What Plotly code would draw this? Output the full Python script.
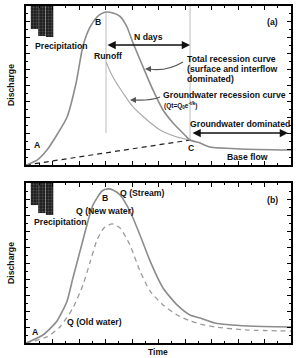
import plotly.graph_objects as go

W, H = 296, 358
FONT = "Liberation Sans, Arial, sans-serif"

# ---------------- data (axis units 0-10 both directions) ----------------
# Panel (a): total hydrograph
a_total_x = [0.0, 0.42, 0.79, 1.21, 1.55, 1.89, 2.15, 2.42, 2.68, 2.85, 3.02, 3.25, 3.55, 3.81,
             4.04, 4.42, 4.79, 5.17, 5.55, 5.92, 6.19, 6.57, 6.94, 8.08, 10.0]
a_total_y = [0.0, 0.31, 0.94, 2.01, 3.02, 5.16, 7.48, 8.68, 9.31, 9.52, 9.62, 9.58, 9.35, 8.68,
             7.67, 6.16, 4.72, 3.46, 2.64, 2.01, 1.57, 1.38, 1.13, 1.01, 0.94]
# Panel (a): groundwater recession curve
a_gw_x = [3.02, 3.28, 3.66, 4.04, 4.57, 5.06, 5.70, 6.19]
a_gw_y = [6.48, 5.53, 4.53, 3.65, 2.83, 2.20, 1.76, 1.57]
# Panel (a): base-flow separation line (A -> C)
a_base_x = [0.0, 6.19]
a_base_y = [0.0, 1.57]
# Panel (a): vertical guide lines (peak B, point C)
a_vline_b_x = [3.02, 3.02]
a_vline_b_y = [2.01, 9.62]
a_vline_c_x = [6.19, 6.19]
a_vline_c_y = [1.57, 10.0]

# Precipitation bars (hanging from the top)
precip_x = [0.32, 0.60, 0.89]
precip_a_depth = [1.45, 1.89, 1.95]
precip_b_depth = [1.38, 1.88, 2.00]

# Panel (b): stream discharge and old water
b_stream_x = [0.0, 0.64, 1.17, 1.55, 1.77, 2.04, 2.30, 2.53, 2.87, 3.09, 3.30, 3.55, 3.92, 4.30,
              4.68, 5.17, 5.70, 6.19, 6.57, 7.13, 8.38, 10.0]
b_stream_y = [0.0, 0.50, 1.38, 2.63, 4.06, 5.75, 7.38, 8.63, 9.50, 9.63, 9.55, 9.25, 8.25, 6.75,
              5.13, 3.44, 2.38, 1.75, 1.56, 1.25, 1.06, 1.00]
b_old_x = [0.0, 0.79, 1.28, 1.77, 2.15, 2.42, 2.68, 2.94, 3.25, 3.55, 3.92, 4.30, 4.68, 5.17,
           5.70, 6.19, 6.57, 7.13, 8.38, 10.0]
b_old_y = [0.0, 0.38, 1.00, 2.19, 3.63, 5.06, 6.44, 7.19, 7.44, 7.19, 6.13, 4.50, 3.25, 2.38,
           1.75, 1.38, 1.19, 1.00, 0.81, 0.75]

# ---------------- figure ----------------
fig = go.Figure()

bar_style = dict(color="#1e1e1e",
                 pattern=dict(shape=".", fgcolor="#777777", size=3, solidity=0.35),
                 line=dict(width=0))

# panel a
fig.add_trace(go.Bar(x=precip_x, y=precip_a_depth, base=[10 - d for d in precip_a_depth],
                     width=0.28, marker=bar_style, xaxis="x", yaxis="y"))
fig.add_trace(go.Scatter(x=a_vline_b_x, y=a_vline_b_y, mode="lines",
                         line=dict(color="#bdbdbd", width=1), xaxis="x", yaxis="y"))
fig.add_trace(go.Scatter(x=a_vline_c_x, y=a_vline_c_y, mode="lines",
                         line=dict(color="#bdbdbd", width=1), xaxis="x", yaxis="y"))
fig.add_trace(go.Scatter(x=a_base_x, y=a_base_y, mode="lines",
                         line=dict(color="#222222", width=1.2, dash="5px,4px"), xaxis="x", yaxis="y"))
fig.add_trace(go.Scatter(x=a_gw_x, y=a_gw_y, mode="lines",
                         line=dict(color="#a8a8a8", width=1.1, shape="spline", smoothing=0.8),
                         xaxis="x", yaxis="y"))
fig.add_trace(go.Scatter(x=a_total_x, y=a_total_y, mode="lines",
                         line=dict(color="#8c8c8c", width=1.6, shape="spline", smoothing=0.6),
                         xaxis="x", yaxis="y"))

# panel b
fig.add_trace(go.Bar(x=precip_x, y=precip_b_depth, base=[10 - d for d in precip_b_depth],
                     width=0.28, marker=bar_style, xaxis="x2", yaxis="y2"))
fig.add_trace(go.Scatter(x=b_old_x, y=b_old_y, mode="lines",
                         line=dict(color="#9a9a9a", width=1.3, dash="5px,4px", shape="spline",
                                   smoothing=0.6), xaxis="x2", yaxis="y2"))
fig.add_trace(go.Scatter(x=b_stream_x, y=b_stream_y, mode="lines",
                         line=dict(color="#8c8c8c", width=1.6, shape="spline", smoothing=0.6),
                         xaxis="x2", yaxis="y2"))


def axis(domain, anchor):
    return dict(domain=domain, anchor=anchor, range=[0, 10], showline=True, linewidth=1.5,
                linecolor="black", mirror="ticks", ticks="inside", ticklen=4, tickwidth=1.2,
                tickcolor="black", tick0=0, dtick=1,
                minor=dict(ticks="inside", ticklen=2.5, dtick=0.5, tickcolor="black", tickwidth=1),
                showticklabels=False, showgrid=False, zeroline=False, fixedrange=True)


xd = [26 / W, 291 / W]
ya = [1 - 165 / H, 1 - 6 / H]
yb = [1 - 343 / H, 1 - 183 / H]

annotations = []
shapes = []


def P(x, y):
    return x / W, 1 - y / H


def txt(s, x, y, anchor="center", size=8.7, bold=True, angle=0):
    px, py = P(x, y)
    annotations.append(dict(text=("<b>%s</b>" % s) if bold else s, x=px, y=py, xref="paper",
                            yref="paper", xanchor=anchor, yanchor="middle", showarrow=False,
                            textangle=angle, font=dict(size=size, family=FONT, color="#111111")))


def arrow(xh, yh, dx, dy, color="#111111", width=1.5, both=False, size=1.0):
    px, py = P(xh, yh)
    annotations.append(dict(text="", x=px, y=py, xref="paper", yref="paper", ax=dx, ay=dy,
                            axref="pixel", ayref="pixel", showarrow=True, arrowhead=2,
                            arrowsize=size, arrowwidth=width, arrowcolor=color,
                            arrowside="end+start" if both else "end", standoff=0,
                            startstandoff=0))


def curve(p0, c, p1, color="#555555", width=1.2):
    a = P(*p0)
    b = P(*c)
    d = P(*p1)
    shapes.append(dict(type="path", xref="paper", yref="paper",
                       path="M %f,%f Q %f,%f %f,%f" % (a[0], a[1], b[0], b[1], d[0], d[1]),
                       line=dict(color=color, width=width)))


# panel (a) texts
txt("Precipitation", 33, 46, "left")
txt("B", 98, 22)
txt("Runoff", 108, 56)
txt("N days", 148, 37)
txt("(a)", 272, 22)
txt("Total recession curve", 185, 59, "left")
txt("(surface and interflow", 185, 69, "left")
txt("dominated)", 185, 79, "left")
txt("Groundwater recession curve", 161, 95, "left")
txt("(Qt=Q<sub>0</sub>e<sup>-t/k</sup>)", 162, 106, "left", size=6.5)
txt("Groundwater dominated", 188, 124, "left")
txt("C", 191, 148)
txt("Base flow", 247, 157)
txt("A", 37, 145)
txt("Discharge", 11, 85, angle=-90)

arrow(190, 45, -84, 0, both=True, size=1.1)
arrow(288, 133, -97, 0, both=True, size=1.1)
curve((183, 62), (166, 72), (149, 69))
arrow(145, 69, 6, 0, color="#555555", width=1.2)
curve((160, 97), (150, 101), (134, 100))
arrow(130, 100, 6, 0, color="#555555", width=1.2)

# panel (b) texts
txt("B", 105, 198)
txt("Q (Stream)", 118, 193, "left")
txt("Q (New water)", 74, 211, "left")
txt("Precipitation", 32, 222, "left")
txt("Q (Old water)", 65, 322, "left")
txt("A", 35, 332)
txt("(b)", 272, 200)
txt("Discharge", 11, 263, angle=-90)
txt("Time", 158, 352, size=8.5)

fig.update_layout(
    width=W, height=H, margin=dict(l=0, r=0, t=0, b=0),
    paper_bgcolor="white", plot_bgcolor="white", showlegend=False, barmode="overlay",
    xaxis=axis(xd, "y"), yaxis=axis(ya, "x"),
    xaxis2=axis(xd, "y2"), yaxis2=axis(yb, "x2"),
    annotations=annotations, shapes=shapes,
)

fig.write_html("out.html")
